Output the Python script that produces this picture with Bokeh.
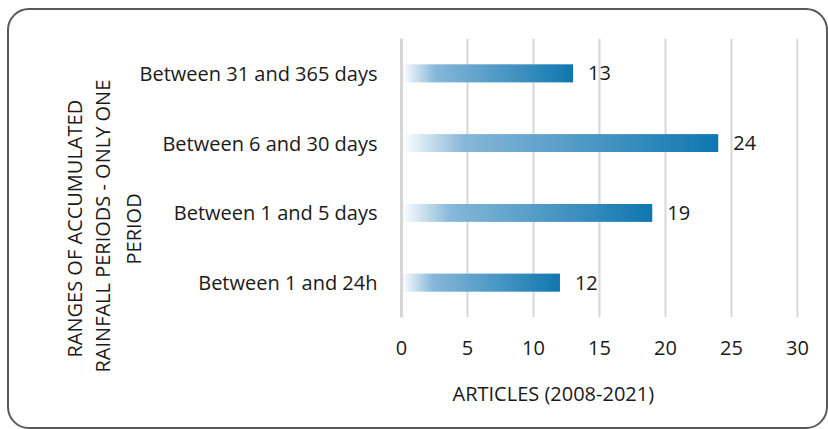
from bokeh.plotting import figure
from bokeh.models import Range1d, FactorRange, Title, FixedTicker, ColumnDataSource
from bokeh.core.properties import value
from bokeh.embed import file_html
from bokeh.resources import INLINE

# ---- data ----
categories = ["Between 1 and 24h", "Between 1 and 5 days", "Between 6 and 30 days", "Between 31 and 365 days"]
articles = [12, 19, 24, 13]
x_ticks = [0, 5, 10, 15, 20, 25, 30]
x_title = "ARTICLES (2008-2021)"
y_title_lines = ["RANGES OF ACCUMULATED", "RAINFALL PERIODS - ONLY ONE", "PERIOD"]

FONT = "Open Sans"
TXT = "#1a1a1a"
GRID = "#d6d6d6"
FS = "20px"

# gradient stops (position along bar, rgb)
stops = [(0.0, (255, 255, 255)), (0.2, (134, 183, 216)), (1.0, (16, 119, 176))]


def grad_color(t):
    for (t0, c0), (t1, c1) in zip(stops[:-1], stops[1:]):
        if t <= t1:
            f = (t - t0) / (t1 - t0)
            return "#%02x%02x%02x" % tuple(int(round(a + (b - a) * f)) for a, b in zip(c0, c1))
    return "#%02x%02x%02x" % stops[-1][1]


p = figure(
    width=821, height=421,
    y_range=FactorRange(factors=categories, range_padding=0),
    x_range=Range1d(0, 30.08),
    output_backend="svg", toolbar_location=None,
    min_border_left=394, min_border_right=30, min_border_top=30, min_border_bottom=111,
)
p.styles = {"margin-left": "7px", "margin-top": "8px",
            "outline": "2px solid #595959", "outline-offset": "-2px",
            "border-radius": "22px"}
p.outline_line_color = None
p.background_fill_color = "white"
p.border_fill_color = None

# gradient bars built from overlapping slices of each value
N = 150
ys, lefts, rights, cols = [], [], [], []
for cat, v in zip(categories, articles):
    for i in range(N):
        ys.append(cat)
        lefts.append(v * i / N)
        rights.append(v * min(i + 1.8, N) / N)
        cols.append(grad_color((i + 0.5) / N))
src = ColumnDataSource(dict(y=ys, left=lefts, right=rights, c=cols))
p.hbar(y="y", left="left", right="right", height=0.257, source=src,
       fill_color="c", line_color=None)

# value labels
p.text(x=articles, y=categories, text=[str(v) for v in articles],
       x_offset=15, text_baseline="middle", text_align="left",
       text_font=value(FONT), text_font_size=FS, text_color=TXT)

# axes
p.xaxis.ticker = FixedTicker(ticks=x_ticks)
p.xaxis.axis_line_color = None
p.xaxis.major_tick_line_color = None
p.xaxis.minor_tick_line_color = None
p.xaxis.major_label_standoff = 17
p.xaxis.major_label_text_font = FONT
p.xaxis.major_label_text_font_size = FS
p.xaxis.major_label_text_color = TXT

p.yaxis.axis_line_color = GRID
p.yaxis.axis_line_width = 3
p.yaxis.major_tick_line_color = None
p.yaxis.minor_tick_line_color = None
p.yaxis.major_label_standoff = 18
p.yaxis.major_label_text_font = FONT
p.yaxis.major_label_text_font_size = FS
p.yaxis.major_label_text_color = TXT

p.xgrid.grid_line_color = GRID
p.xgrid.grid_line_width = 2
p.ygrid.grid_line_color = None

# axis titles as side-panel titles
p.add_layout(Title(text=x_title, align="left", offset=51, standoff=43,
                   vertical_align="middle", text_font=FONT, text_font_size=FS,
                   text_font_style="normal", text_color=TXT), "below")

# y title lines, added from the one nearest the axis outward
y_offsets = [-40, -55, 53]
y_standoffs = [-26, 25, -22]
for line, off, so in reversed(list(zip(y_title_lines, y_offsets, y_standoffs))):
    p.add_layout(Title(text=line, align="left", offset=off, standoff=so,
                       vertical_align="middle", text_font=FONT, text_font_size=FS,
                       text_font_style="normal", text_color=TXT), "left")

open("out.html", "w").write(file_html(p, INLINE))
